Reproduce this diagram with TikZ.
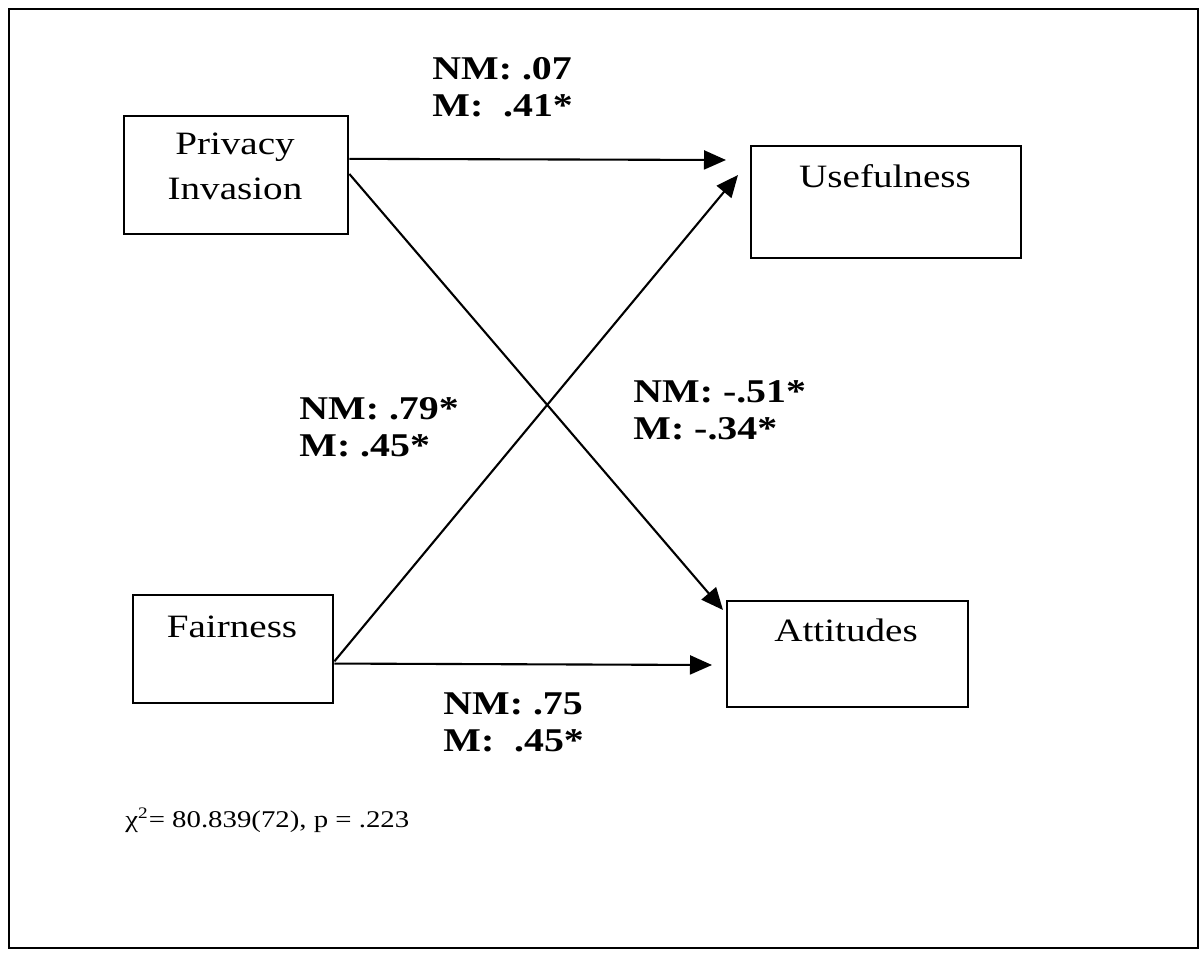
\documentclass[tikz,border=0pt]{standalone}
\usepackage{fontspec}
\setmainfont{Liberation Serif}[FakeStretch=1.2]
\usetikzlibrary{arrows.meta,calc}
\begin{document}
\begin{tikzpicture}[x=0.5pt,y=-0.5pt,
  frame/.style={draw, line width=1.2pt},
  box/.style={draw, line width=1.2pt, anchor=north west, inner sep=0pt},
  boxtext/.style={font=\fontsize{16.3}{22.5}\selectfont, inner sep=0pt, align=center},
  coef/.style={font=\fontsize{16.6}{18.5}\selectfont\bfseries, inner sep=0pt, align=left, anchor=north west},
  link/.style={line width=1.05pt, -{Triangle[length=11pt,width=9.5pt]}},
]
\useasboundingbox (0,0) rectangle (1201,954);
\draw[frame] (9,9) rectangle (1198,948);

% construct boxes
\node[box, minimum width=112pt, minimum height=59pt] (pi) at (123,115) {};
\node[box, minimum width=135pt, minimum height=56pt] (use) at (750,145) {};
\node[box, minimum width=100pt, minimum height=54pt] (fair) at (132,594) {};
\node[box, minimum width=120.5pt, minimum height=53pt] (att) at (726,600) {};

% construct names
\node[boxtext, anchor=north] (pi-t) at (235,133) {Privacy\\Invasion};
\node[boxtext, anchor=base] (use-t) at (885,187) {Usefulness};
\node[boxtext, anchor=base] (fair-t) at (232,637) {Fairness};
\node[boxtext, anchor=base] (att-t) at (846,641) {Attitudes};

% arrow ends in front of the outcome boxes
\coordinate (uIn1) at (726,160);
\coordinate (uIn2) at (738,175);
\coordinate (aIn1) at (723,610);
\coordinate (aIn2) at (712,665);

% paths
\draw[link] ($(pi.north east)!0.364!(pi.south east)$) -- (uIn1);
\draw[link] ($(pi.north east)!0.49!(pi.south east)$) -- (aIn1);
\draw[link] ($(fair.north east)!0.61!(fair.south east)$) -- (uIn2);
\draw[link] ($(fair.north east)!0.63!(fair.south east)$) -- (aIn2);

% path coefficients (NM / M groups)
\node[coef] (c-pu) at (432,57) {NM: .07\\M:\ \ .41*};
\node[coef] (c-fu) at (299,397) {NM: .79*\\M: .45*};
\node[coef] (c-pa) at (633,380) {NM: -.51*\\M: -.34*};
\node[coef] (c-fa) at (443,692) {NM: .75\\M:\ \ .45*};

% model fit
\node[anchor=base west, inner sep=0pt, font=\fontsize{12}{14}\selectfont] (fit) at (125,827)
  {χ\textsuperscript{2}= 80.839(72), p = .223};
\end{tikzpicture}
\end{document}
